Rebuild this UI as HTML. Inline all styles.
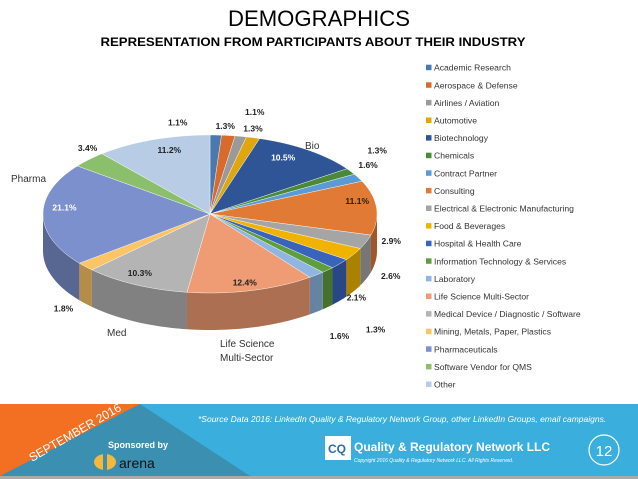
<!DOCTYPE html>
<html><head><meta charset="utf-8"><style>
html,body{margin:0;padding:0;background:#fff;width:638px;height:479px;overflow:hidden;font-family:"Liberation Sans",sans-serif}
</style></head><body>
<svg id="chart" width="638" height="479" viewBox="0 0 638 479" xmlns="http://www.w3.org/2000/svg">
<text x="319" y="26" text-anchor="middle" font-size="22" textLength="182" lengthAdjust="spacingAndGlyphs" font-family="Liberation Sans, sans-serif">DEMOGRAPHICS</text>
<text x="313" y="46" text-anchor="middle" font-size="12" font-weight="bold" textLength="425" lengthAdjust="spacingAndGlyphs">REPRESENTATION FROM PARTICIPANTS ABOUT THEIR INDUSTRY</text>
<g id="sides"></g>
<g id="tops"></g>
<g id="labels"></g>
<g id="legend"></g>
<g font-size="10" fill="#333">
<text x="305" y="149">Bio</text>
<text x="11" y="182">Pharma</text>
<text x="107" y="336">Med</text>
<text x="220" y="347">Life Science</text>
<text x="220" y="361">Multi-Sector</text>
</g>
<g>
<rect x="0" y="404" width="638" height="72" fill="#3aaedc"/>
<polygon points="0,476 0,404 140,404 250,476" fill="#3b8fb0"/>
<polygon points="0,404 140,404 0,476" fill="#f36f21"/>
<rect x="0" y="476" width="638" height="3" fill="#aaa"/>
<text x="0" y="0" font-size="12" fill="#fff" transform="translate(32,462) rotate(-30)">SEPTEMBER 2016</text>
<text x="108" y="448" font-size="9" font-weight="bold" fill="#fff">Sponsored by</text>
<ellipse cx="105" cy="462" rx="11" ry="8" fill="#f5b83b"/>
<rect x="103" y="454" width="4" height="16" fill="#3b8fb0"/>
<text x="119" y="468" font-size="14" fill="#111">arena</text>
<text x="198" y="422" font-size="8.5" font-style="italic" fill="#fff">*Source Data 2016: LinkedIn Quality &amp; Regulatory Network Group, other LinkedIn Groups, email campaigns.</text>
<rect x="325" y="436" width="26" height="24" fill="#fff"/>
<text x="328" y="453" font-size="12" font-weight="bold" fill="#2a6db0">CQ</text>
<text x="354" y="451" font-size="12" font-weight="bold" fill="#fff">Quality &amp; Regulatory Network LLC</text>
<text x="354" y="462" font-size="5" font-style="italic" fill="#fff">Copyright 2016 Quality &amp; Regulatory Network LLC. All Rights Reserved.</text>
<circle cx="604" cy="450" r="15" fill="none" stroke="#fff" stroke-width="1.2"/>
<text x="604" y="456" font-size="15" fill="#fff" text-anchor="middle">12</text>
</g>
</svg>
<script>
const categories=["Academic Research","Aerospace & Defense","Airlines / Aviation","Automotive","Biotechnology","Chemicals","Contract Partner","Consulting","Electrical & Electronic Manufacturing","Food & Beverages","Hospital & Health Care","Information Technology & Services","Laboratory","Life Science Multi-Sector","Medical Device / Diagnostic / Software","Mining, Metals, Paper, Plastics","Pharmaceuticals","Software Vendor for QMS","Other"];
const values=[1.1,1.3,1.1,1.3,10.5,1.3,1.6,11.1,2.9,2.6,2.1,1.3,1.6,12.4,10.3,1.8,21.1,3.4,11.2];
const valueLabels=["1.1%","1.3%","1.1%","1.3%","10.5%","1.3%","1.6%","11.1%","2.9%","2.6%","2.1%","1.3%","1.6%","12.4%","10.3%","1.8%","21.1%","3.4%","11.2%"];
const colors=["#4a78b0","#d86a2c","#9a9a9a","#e0a60e","#2f5597","#4a8a36","#5b9bd5","#e07a35","#a5a5a5","#f0b400","#3a63bb","#5f9e3e","#8fb6e0","#ef9b73","#b4b4b4","#fbc566","#7b90cc","#8cbf6c","#b8cce6"];
// label nudges (dx,dy) relative to default label placement
const labelNudgeX=[-39,-6,9,-7,12,4,-14,44,0,14,-4,29,6,9,-24,-2,-42,18,-5];
const labelNudgeY=[0,3,-12,3,-17,-14,-7,-9,-35,-14,-4,21,22,21,15,4,-7,-3,-18];
const NS="http://www.w3.org/2000/svg";
const cx=210,cy=214,rx=167,ry=79,depth=37;
const total=values.reduce((a,b)=>a+b,0);
function pt(a,r){return [cx+rx*r*Math.sin(a),cy-ry*r*Math.cos(a)];}
function dark(c,f){const n=parseInt(c.slice(1),16);const r=(n>>16)*f|0,g=((n>>8)&255)*f|0,b=(n&255)*f|0;return `rgb(${r},${g},${b})`;}
const sides=document.getElementById('sides'),tops=document.getElementById('tops'),labels=document.getElementById('labels'),legend=document.getElementById('legend');
let acc=0;
values.forEach((v,i)=>{
  const a1=acc/total*2*Math.PI; acc+=v; const a2=acc/total*2*Math.PI;
  const s1=Math.max(a1,Math.PI/2),s2=Math.min(a2,3*Math.PI/2);
  if(s2>s1){
    const n=20;let d="";
    for(let k=0;k<=n;k++){const p=pt(s1+(s2-s1)*k/n,1);d+=(k?"L":"M")+p[0]+","+p[1];}
    for(let k=n;k>=0;k--){const p=pt(s1+(s2-s1)*k/n,1);d+="L"+p[0]+","+(p[1]+depth);}
    const sp=document.createElementNS(NS,'path');
    
    
    sp.setAttribute('d',d+"Z");sp.setAttribute('fill',dark(colors[i],0.72));
    sides.appendChild(sp);
  }
  const n=Math.max(4,Math.ceil(v*2));let d="M"+cx+","+cy;
  for(let k=0;k<=n;k++){const p=pt(a1+(a2-a1)*k/n,1);d+="L"+p[0]+","+p[1];}
  const tp=document.createElementNS(NS,'path');
  
  
  tp.setAttribute('d',d+"Z");tp.setAttribute('fill',colors[i]);tp.setAttribute('stroke','#fff');tp.setAttribute('stroke-width','0.4');
  tops.appendChild(tp);
  const am=(a1+a2)/2;const inside=v>5;
  let p=pt(am,inside?0.62:1.16);
  if(!inside && Math.cos(am)<0) p[1]+=depth*0.8;
  const t=document.createElementNS(NS,'text');
  
  
  t.setAttribute('x',p[0]+labelNudgeX[i]);t.setAttribute('y',p[1]+3+labelNudgeY[i]);t.setAttribute('text-anchor','middle');
  t.setAttribute('font-size','8.5');t.setAttribute('font-weight','bold');
  t.setAttribute('fill',(i===4||i===16)?'#fff':'#222');
  t.textContent=valueLabels[i];labels.appendChild(t);
  const y=67.7+i*17.6;
  const r=document.createElementNS(NS,'rect');
  
  
  r.setAttribute('x',426);r.setAttribute('y',y-3);r.setAttribute('width',5.5);r.setAttribute('height',5.5);r.setAttribute('fill',colors[i]);
  legend.appendChild(r);
  const lt=document.createElementNS(NS,'text');
  
  
  lt.setAttribute('x',434);lt.setAttribute('y',y+3);lt.setAttribute('font-size','8.6');lt.setAttribute('fill','#333');
  lt.textContent=categories[i];legend.appendChild(lt);
});
</script>
</body></html>
